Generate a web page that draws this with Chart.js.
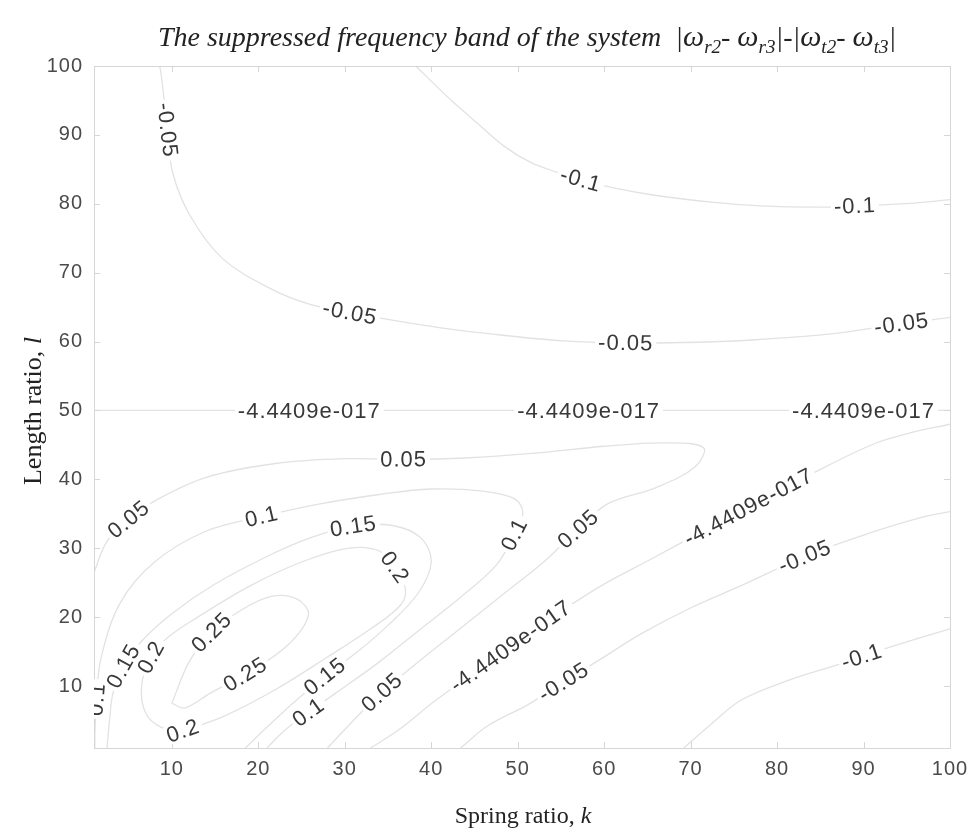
<!DOCTYPE html>
<html>
<head>
<meta charset="utf-8">
<title>Suppressed frequency band</title>
<script src="https://cdn.jsdelivr.net/npm/chart.js@4.4.1/dist/chart.umd.min.js"></script>
<style>
  html, body { margin: 0; padding: 0; background: #fff; }
  #wrap { width: 979px; height: 840px; }
</style>
</head>
<body>
<div id="wrap"><canvas id="contourChart" width="979" height="840"></canvas></div>
<script>
// =========================
// DATA (k = spring ratio, l = length ratio)
// =========================
const xTicks = [10, 20, 30, 40, 50, 60, 70, 80, 90, 100];
const yTicks = [10, 20, 30, 40, 50, 60, 70, 80, 90, 100];

// contour lines as [k, l] pairs
const negTop010 = [[38.2,100],[40,97.8],[42.5,94.8],[45.7,91.3],[48.5,88.3],[51.5,86],[54.5,84.6],[57.3,83.5],[61.1,82.3],[66,81.2],[72.7,80.2],[78,79.7],[84.3,79.5],[89,79.7],[95.9,80.1],[100,80.6]];
const negTop005 = [[8.6,100],[8.8,98.5],[9.5,90.7],[10.1,84.5],[12.1,78.3],[15.9,72],[21.7,67.5],[26,65.4],[30.6,64.2],[36,63],[41.1,62],[46.9,61.1],[55.3,60.1],[62.5,59.8],[70.9,59.9],[78,60.3],[86.3,61.1],[94.4,62.6],[100,63.5]];
const zeroMid = [[1,50],[25.9,50],[58.2,50],[90,50],[100,50]];
const zeroLow = [[33,1],[36.2,3.6],[40.3,7.7],[45,12],[49.2,15.8],[54,20],[59.6,24.5],[65.4,28.4],[71,32.2],[76.7,36],[84,40.8],[91.3,45.2],[95.6,46.8],[100,48]];
const negLow005 = [[43.4,1],[46.5,4.2],[51.2,7.3],[55.3,10.6],[59.6,13.9],[64.3,17.6],[70.1,21.4],[75.9,24.6],[83.2,28.8],[89.5,31.7],[96.8,34.5],[100,35.3]];
const negLow010 = [[69.2,1],[72.5,4.6],[75.9,8],[81.7,11],[86,12.7],[89.8,14.3],[93.2,15.7],[100,18.3]];
const pos005 = [[1,26.5],[2.5,31],[5,34.2],[8.5,37.2],[14,40.3],[22,42.3],[30,43],[36.8,42.9],[44,43.1],[52,43.8],[60,44.8],[67,45.3],[71.5,44.6],[70.5,41.8],[66,38.8],[60.5,36.5],[57,32.8],[53,28],[48,23],[43,18],[38.5,13.5],[34.3,9.1],[31,5],[28,1]];
const pos010 = [[1.1,1],[1.1,3],[1.3,8.1],[1.8,14],[4,22],[8,28],[14,32.5],[20.4,34.6],[27,36.4],[34,37.8],[40,38.6],[46,38.3],[49.6,37.2],[50.6,35.2],[49.6,32],[47.5,27.5],[43.5,23],[39,18.5],[34,13.5],[29,9],[25.8,6.2],[23,3.5],[21,1]];
const pos015 = [[2.5,1],[2.8,5],[3.2,9],[4.4,12.9],[6.5,16.5],[10,20.5],[15,24.8],[21,28.8],[26,31.5],[31,33.2],[35.5,33.3],[38.8,31.5],[40,28],[38.5,23.5],[35,18.8],[31.5,15],[27.7,11.4],[24,7.5],[21,4],[18.5,1]];
const pos020 = [[11.3,3.5],[16,5.6],[22,9.5],[28,14.2],[33,18.3],[36.5,21.8],[37,24.2],[35.8,27.2],[34,29.6],[30.5,30],[25,28],[19,24.5],[13,20],[9.5,17],[7.6,14.2],[6.5,10],[7,6],[8.8,4],[11.3,3.5]];
const pos025 = [[10,7.5],[12,13.5],[14.6,17.8],[18,21],[21.5,23],[24.5,22.6],[25.8,20.3],[23.3,15.8],[18.5,11.7],[14.5,9],[11.5,6.8],[10,7.5]];

const contours = [negTop010, negTop005, zeroMid, zeroLow, negLow005, negLow010, pos005, pos010, pos015, pos020, pos025];

// inline labels: text, position, and index of the contour they sit on
const labelText = ['-0.05','-0.05','-0.05','-0.05','-0.1','-0.1',
  '-4.4409e-017','-4.4409e-017','-4.4409e-017','-4.4409e-017','-4.4409e-017',
  '-0.05','-0.05','-0.1',
  '0.05','0.05','0.05','0.05','0.1','0.1','0.1','0.1',
  '0.15','0.15','0.15','0.2','0.2','0.2','0.25','0.25'];
const labelK = [9.5,30.6,62.5,94.4,57.3,89, 25.9,58.2,90,49.2,76.7, 55.3,83.2,89.8,
  5,36.8,57,34.3,1.3,20.4,49.6,25.8, 4.4,31,27.7,7.6,35.8,11.3,14.6,18.5];
const labelL = [90.7,64.2,59.8,62.6,83.5,79.7, 50,50,50,15.8,36, 10.6,28.8,14.3,
  34.2,42.9,32.8,9.1,8.1,34.6,32,6.2, 12.9,33.2,11.4,14.2,27.2,3.5,17.8,11.7];
const labelOn = [1,1,1,1,0,0, 2,2,2,3,3, 4,4,5, 6,6,6,6,7,7,7,7, 8,8,8,9,9,9,10,10];

// =========================
// PLUGINS
// =========================
const SANS = '"Liberation Sans", Arial, Helvetica, sans-serif';
const SERIF = '"Liberation Serif", "Times New Roman", serif';

// box around the axes with inward ticks on all four sides
const framePlugin = {
    id: 'frame',
    beforeDraw(chart) {
        chart.ctx.letterSpacing = '1px';
    },
    afterDatasetsDraw(chart) {
        const { ctx, chartArea: a, scales: { x, y } } = chart;
        ctx.save();
        ctx.strokeStyle = '#d6d6d6';
        ctx.lineWidth = 1;
        ctx.strokeRect(a.left + 0.5, a.top + 0.5, a.width, a.height);
        ctx.beginPath();
        xTicks.forEach(v => {
            const px = Math.round(x.getPixelForValue(v)) + 0.5;
            ctx.moveTo(px, a.bottom); ctx.lineTo(px, a.bottom - 6);
            ctx.moveTo(px, a.top); ctx.lineTo(px, a.top + 6);
        });
        yTicks.forEach(v => {
            const py = Math.round(y.getPixelForValue(v)) + 0.5;
            ctx.moveTo(a.left, py); ctx.lineTo(a.left + 6, py);
            ctx.moveTo(a.right, py); ctx.lineTo(a.right - 6, py);
        });
        ctx.stroke();
        ctx.restore();
    }
};

// clabel-style text, rotated along the contour
const labelPlugin = {
    id: 'contourLabels',
    afterDatasetsDraw(chart) {
        const { ctx, chartArea: a, scales: { x, y } } = chart;
        ctx.save();
        ctx.beginPath();
        ctx.rect(a.left, a.top, a.width, a.height);
        ctx.clip();
        ctx.font = '22px ' + SANS;
        ctx.letterSpacing = '1px';
        ctx.textAlign = 'center';
        ctx.textBaseline = 'middle';
        labelText.forEach((txt, j) => {
            const pts = contours[labelOn[j]];
            let best = 0, bestD = Infinity;
            pts.forEach((p, i) => {
                const d = (p[0] - labelK[j]) ** 2 + (p[1] - labelL[j]) ** 2;
                if (d < bestD) { bestD = d; best = i; }
            });
            const p0 = pts[Math.max(best - 1, 0)];
            const p1 = pts[Math.min(best + 1, pts.length - 1)];
            const dx = x.getPixelForValue(p1[0]) - x.getPixelForValue(p0[0]);
            const dy = y.getPixelForValue(p1[1]) - y.getPixelForValue(p0[1]);
            let ang = Math.atan2(dy, dx);
            if (ang > Math.PI / 2) ang -= Math.PI;
            if (ang <= -Math.PI / 2) ang += Math.PI;
            const px = x.getPixelForValue(labelK[j]);
            const py = y.getPixelForValue(labelL[j]);
            ctx.save();
            ctx.translate(px, py);
            ctx.rotate(ang);
            const w = ctx.measureText(txt).width;
            ctx.fillStyle = '#ffffff';
            ctx.fillRect(-w / 2 - 3, -9, w + 6, 18);
            ctx.fillStyle = '#383838';
            ctx.fillText(txt, 0, 1);
            ctx.restore();
        });
        ctx.restore();
    }
};

// title with subscripts and axis titles with italic symbols
const titlePlugin = {
    id: 'titles',
    afterDraw(chart) {
        const ctx = chart.ctx;
        ctx.save();
        ctx.letterSpacing = '0px';
        ctx.fillStyle = '#222';
        ctx.textBaseline = 'alphabetic';
        ctx.textAlign = 'left';

        const mainFont = 'italic 28px ' + SERIF;
        const omegaFont = 'italic 30px ' + SERIF;
        const subFont = 'italic 19px ' + SERIF;
        // [text, kind] kind: 0 plain, 1 subscript, 2 omega
        const parts = [
            ['The suppressed frequency band of the system ', 0], [' |', 0],
            ['\u03c9', 2], ['r2', 1], ['- ', 0], ['\u03c9', 2], ['r3', 1], ['|-|', 0],
            ['\u03c9', 2], ['t2', 1], ['- ', 0], ['\u03c9', 2], ['t3', 1], ['|', 0]
        ];
        const fontOf = k => (k === 1 ? subFont : k === 2 ? omegaFont : mainFont);
        let total = 0;
        parts.forEach(p => { ctx.font = fontOf(p[1]); total += ctx.measureText(p[0]).width; });
        let cx = 527 - total / 2;
        parts.forEach(p => {
            ctx.font = fontOf(p[1]);
            ctx.fillText(p[0], cx, p[1] === 1 ? 53 : 46);
            cx += ctx.measureText(p[0]).width;
        });

        // x axis title
        const upFont = '24px ' + SERIF;
        const itFont = 'italic 24px ' + SERIF;
        ctx.font = upFont;
        const xa = 'Spring ratio, ';
        const wa = ctx.measureText(xa).width;
        ctx.font = itFont;
        const wb = ctx.measureText('k').width;
        let sx = 523 - (wa + wb) / 2;
        ctx.font = upFont; ctx.fillText(xa, sx, 823);
        ctx.font = itFont; ctx.fillText('k', sx + wa, 823);

        // y axis title
        const upFontY = '26px ' + SERIF;
        const itFontY = 'italic 26px ' + SERIF;
        ctx.translate(41, 411);
        ctx.rotate(-Math.PI / 2);
        ctx.font = upFontY;
        const ya = 'Length ratio, ';
        const wy = ctx.measureText(ya).width;
        ctx.font = itFontY;
        const wl = ctx.measureText('l').width;
        sx = -(wy + wl) / 2;
        ctx.font = upFontY; ctx.fillText(ya, sx, 0);
        ctx.font = itFontY; ctx.fillText('l', sx + wy, 0);
        ctx.restore();
    }
};

// =========================
// CHART
// =========================
const canvas = document.getElementById('contourChart');

new Chart(canvas, {
    type: 'scatter',
    data: {
        datasets: contours.map(c => ({
            data: c.map(p => ({ x: p[0], y: p[1] })),
            showLine: true,
            borderColor: '#e2e2e2',
            borderWidth: 1.3,
            pointRadius: 0,
            tension: 0.35,
            fill: false
        }))
    },
    options: {
        responsive: false,
        animation: false,
        devicePixelRatio: 1,
        layout: { padding: { left: 0, top: 66, right: 29, bottom: 0 } },
        plugins: {
            legend: { display: false },
            tooltip: { enabled: false },
            title: { display: false }
        },
        scales: {
            x: {
                type: 'linear',
                min: 1,
                max: 100,
                afterBuildTicks: s => { s.ticks = xTicks.map(v => ({ value: v })); },
                afterFit: s => { s.height = 92; },
                grid: { display: false, drawTicks: false },
                border: { display: false },
                ticks: { color: '#4a4a4a', font: { family: SANS, size: 20 }, padding: 9, maxRotation: 0 }
            },
            y: {
                type: 'linear',
                min: 1,
                max: 100,
                afterBuildTicks: s => { s.ticks = yTicks.map(v => ({ value: v })); },
                afterFit: s => { s.width = 94; },
                grid: { display: false, drawTicks: false },
                border: { display: false },
                ticks: { color: '#4a4a4a', font: { family: SANS, size: 20 }, padding: 11 }
            }
        }
    },
    plugins: [framePlugin, labelPlugin, titlePlugin]
});
</script>
</body>
</html>
